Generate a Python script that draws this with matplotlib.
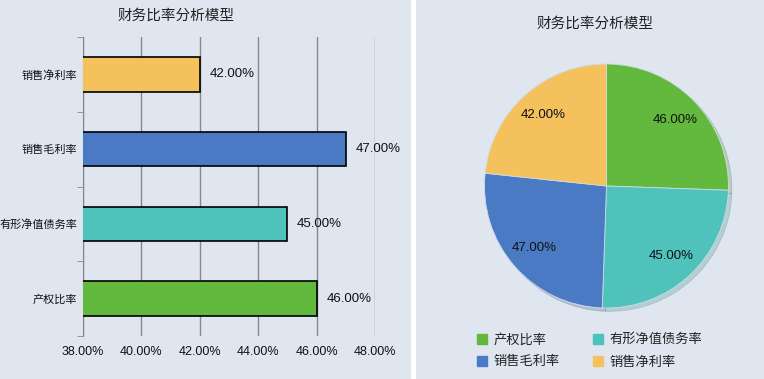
import matplotlib
matplotlib.use("Agg")
import matplotlib.pyplot as plt
from matplotlib.patches import Rectangle
from matplotlib.lines import Line2D
import numpy as np

plt.rcParams['font.family'] = ['Liberation Sans', 'Noto Sans CJK SC', 'DejaVu Sans']

title = "财务比率分析模型"
categories = ["产权比率", "有形净值债务率", "销售毛利率", "销售净利率"]
values = [46.0, 45.0, 47.0, 42.0]
colors = ["#62b93d", "#4fc2bb", "#4a7ac3", "#f4c15d"]
xticks = [38, 40, 42, 44, 46, 48]

BG = "#dfe6f0"
W, H = 764, 379
fig = plt.figure(figsize=(W / 100, H / 100), dpi=100, facecolor="white")

fig.patches.append(Rectangle((0, 0), 411 / W, 1, transform=fig.transFigure,
                             facecolor=BG, edgecolor="none", zorder=-10))
fig.patches.append(Rectangle((416 / W, 0), (W - 416) / W, 1, transform=fig.transFigure,
                             facecolor=BG, edgecolor="none", zorder=-10))

# ---- Left: horizontal bar chart ----
ax = fig.add_axes([83 / W, 1 - 336 / H, (375 - 83) / W, (336 - 37) / H])
ax.set_facecolor("none")
y = np.arange(len(categories))
bars = ax.barh(y, values, height=0.46, color=colors, edgecolor="black", linewidth=1.2, zorder=3)
ax.set_xlim(38, 48)
ax.set_ylim(-0.5, len(categories) - 0.5)
ax.set_xticks(xticks)
ax.set_xticklabels([f"{v:.2f}%" for v in xticks], fontsize=9, color="#111")
ax.set_yticks(y)
ax.set_yticklabels(categories, fontsize=8, color="#111")
ax.set_yticks(np.arange(-0.5, len(categories), 1.0), minor=True)
ax.tick_params(axis="y", which="major", length=0, pad=4)
ax.tick_params(axis="y", which="minor", length=4, color="#888888")
ax.tick_params(axis="x", length=0, pad=7)
ax.grid(axis="x", color="#888888", linewidth=1, zorder=0)
for s in ["top", "right", "bottom"]:
    ax.spines[s].set_visible(False)
ax.spines["left"].set_color("#888888")
for b, v in zip(bars, values):
    ax.annotate(f"{v:.2f}%", (v, b.get_y() + b.get_height() / 2), xytext=(7, 0),
                textcoords="offset points", va="center", ha="left", fontsize=9.5, color="#111")
fig.text(176 / W, 1 - 16 / H, title, ha="center", va="center", fontsize=10.5, color="#222")

# ---- Right: pie chart ----
pax = fig.add_axes([484.5 / W, 1 - 308 / H, 244 / W, 244 / H])
pax.set_facecolor("none")
wedges, _ = pax.pie(values, colors=colors, startangle=90, counterclock=False,
                    wedgeprops=dict(edgecolor="#cfdbe6", linewidth=0.6),
                    shadow=dict(ox=0.02, oy=-0.02, shade=0.3, alpha=0.25))
pax.set_xlim(-1, 1)
pax.set_ylim(-1, 1)
pax.set_aspect("equal")
pax.axis("off")
for w, v in zip(wedges, values):
    ang = np.deg2rad((w.theta1 + w.theta2) / 2)
    pax.text(0.78 * np.cos(ang), 0.78 * np.sin(ang), f"{v:.2f}%", ha="center", va="center",
             fontsize=9.5, color="#111")
fig.text(595 / W, 1 - 24 / H, title, ha="center", va="center", fontsize=10.5, color="#222")

handles = [Line2D([], [], marker="s", linestyle="none", markersize=7,
                  markerfacecolor=c, markeredgecolor=c) for c in colors]
order = [0, 2, 1, 3]
fig.legend([handles[i] for i in order], [categories[i] for i in order], ncol=2, loc="center",
           bbox_to_anchor=(589 / W, 1 - 351 / H),
           frameon=False, fontsize=9.5, handletextpad=0.35, columnspacing=2.4,
           labelspacing=0.75, handlelength=1.0, labelcolor="#222")

fig.savefig("out.png", dpi=100, facecolor="white")
